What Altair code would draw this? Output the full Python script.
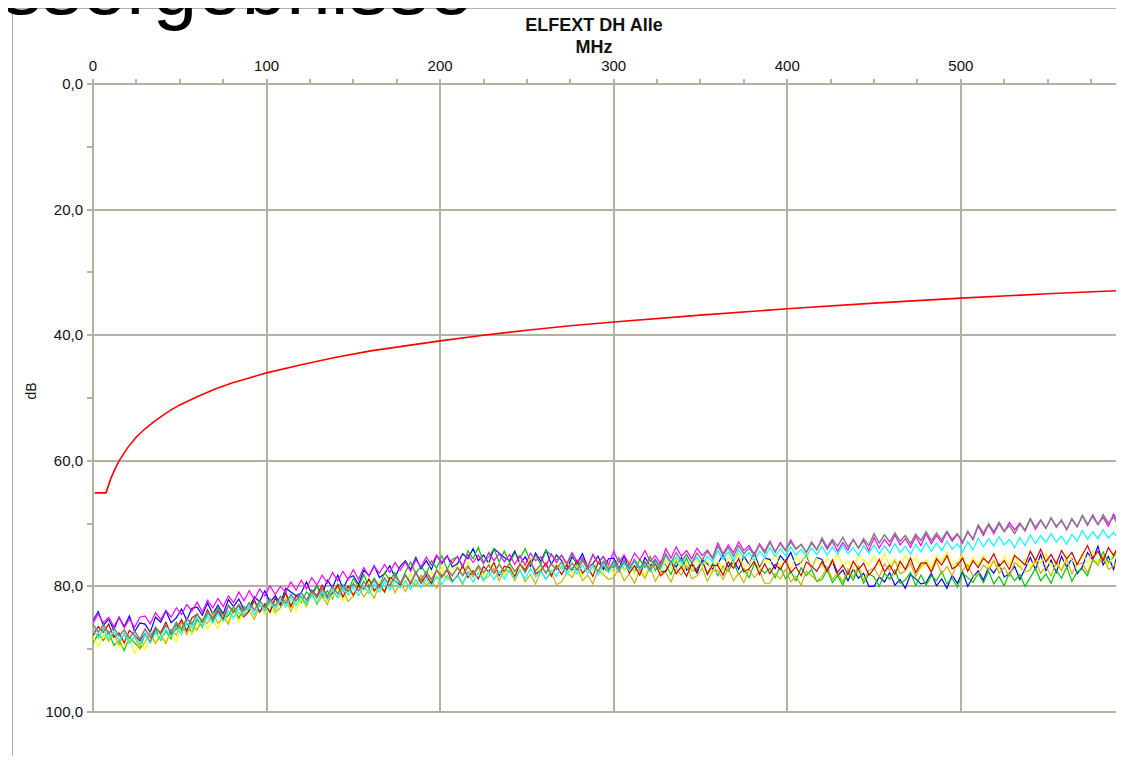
import altair as alt
import pandas as pd

SLIDE_TITLE = ["Messergebnisse"]
CHART_TITLE = ["ELFEXT DH Alle"]
X_TITLE = "MHz"
Y_TITLE = "dB"

# frequency grid of the measured traces (MHz)
freq = list(range(0, 601, 3))

# limit line (red)
limit_mhz = [1, 7.5, 10, 12.5, 15, 20, 25, 30, 35, 40, 45, 50, 60, 70, 80, 90, 100,
             120, 140, 160, 180, 200, 225, 250, 275, 300, 350, 400, 450, 500, 550, 600]
limit_db = [65.1, 65.1, 63.0, 61.4, 60.0, 57.9, 56.2, 54.9, 53.8, 52.8, 51.9, 51.1, 49.8,
            48.6, 47.6, 46.8, 46.0, 44.7, 43.5, 42.5, 41.7, 40.9, 40.0, 39.2, 38.5, 37.9,
            36.8, 35.8, 34.9, 34.1, 33.4, 32.8]

blue = [
    85.4, 84.0, 86.2, 85.2, 86.9, 84.9, 86.4, 84.7, 87.2, 85.8,
    86.0, 87.3, 84.9, 85.7, 83.9, 85.8, 85.0, 83.6, 85.4, 83.5,
    83.3, 84.6, 82.6, 84.4, 83.0, 84.4, 82.1, 83.2, 82.0, 83.7,
    83.4, 81.7, 82.4, 80.7, 82.5, 81.5, 82.7, 80.3, 80.9, 81.5,
    81.0, 79.3, 81.2, 79.9, 81.3, 79.0, 80.2, 78.2, 80.4, 78.7,
    78.3, 79.7, 77.4, 78.3, 76.7, 78.6, 78.0, 76.7, 78.6, 76.8,
    75.9, 77.3, 75.4, 77.2, 75.9, 77.3, 75.1, 76.2, 75.1, 76.9,
    76.4, 74.8, 75.6, 74.0, 75.9, 75.0, 76.3, 74.0, 74.7, 75.4,
    75.9, 74.4, 76.4, 75.3, 76.8, 74.7, 76.0, 74.2, 76.5, 75.0,
    75.9, 77.4, 75.3, 76.3, 74.8, 76.9, 76.4, 75.2, 77.3, 75.6,
    75.5, 77.0, 75.2, 77.2, 76.0, 77.5, 75.4, 76.7, 75.7, 77.6,
    77.6, 76.1, 76.9, 75.4, 77.4, 76.5, 77.9, 75.7, 76.4, 77.2,
    76.4, 74.9, 76.9, 75.8, 77.3, 75.2, 76.5, 74.7, 77.0, 75.5,
    75.7, 77.2, 75.1, 76.1, 74.6, 76.7, 76.2, 75.0, 77.1, 75.4,
    75.7, 77.5, 76.0, 78.3, 77.4, 79.1, 77.2, 78.7, 77.9, 80.0,
    80.0, 78.5, 79.3, 77.8, 79.8, 78.9, 80.3, 78.1, 78.8, 79.6,
    79.4, 77.9, 79.9, 78.8, 80.3, 78.2, 79.5, 77.7, 80.0, 78.5,
    77.5, 79.0, 76.9, 77.9, 76.4, 78.5, 78.0, 76.8, 78.9, 77.2,
    75.4, 77.3, 74.9, 77.5, 75.8, 77.8, 75.2, 76.9, 75.6, 78.0,
    76.9, 74.6, 75.8, 73.6, 76.6, 75.2, 77.3, 74.0, 75.1, 76.3,
    75.6]

green = [
    89.0, 87.6, 88.6, 87.2, 89.4, 88.6, 90.2, 88.1, 89.0, 89.9,
    87.6, 88.9, 86.8, 88.6, 87.1, 88.4, 86.0, 87.1, 85.8, 87.5,
    85.2, 86.5, 84.2, 85.0, 83.4, 85.3, 84.6, 83.2, 85.1, 83.2,
    83.9, 82.2, 84.1, 82.8, 84.1, 81.9, 83.0, 81.0, 83.2, 81.5,
    82.6, 80.9, 81.6, 79.9, 81.8, 80.7, 82.0, 79.6, 80.2, 80.8,
    78.7, 80.1, 78.1, 80.0, 78.7, 80.0, 77.8, 79.0, 77.8, 79.6,
    77.7, 76.1, 78.0, 76.7, 78.1, 75.9, 77.1, 75.1, 77.3, 75.7,
    75.3, 77.0, 74.3, 75.6, 73.8, 76.2, 75.3, 74.0, 76.1, 74.4,
    76.2, 74.7, 75.5, 74.0, 76.0, 75.1, 76.5, 74.3, 75.0, 75.8,
    75.1, 76.6, 74.8, 76.8, 75.6, 77.1, 75.0, 76.3, 75.3, 77.2,
    76.9, 75.4, 77.4, 76.3, 77.8, 75.7, 77.0, 75.2, 77.5, 76.0,
    76.6, 78.1, 76.0, 77.0, 75.5, 77.6, 77.1, 75.9, 78.0, 76.3,
    78.3, 76.8, 77.6, 76.1, 78.1, 77.2, 78.6, 76.4, 77.1, 77.9,
    77.1, 78.6, 76.8, 78.8, 77.6, 79.1, 77.0, 78.3, 77.3, 79.2,
    78.9, 77.4, 79.4, 78.3, 79.8, 77.7, 79.0, 77.2, 79.5, 78.0,
    78.5, 80.0, 77.9, 78.9, 77.4, 79.5, 79.0, 77.8, 79.9, 78.2,
    79.8, 78.3, 79.1, 77.6, 79.6, 78.7, 80.1, 77.9, 78.6, 79.4,
    77.9, 79.4, 77.6, 79.6, 78.4, 79.9, 77.8, 79.1, 78.1, 80.0,
    78.6, 77.1, 79.1, 78.0, 79.5, 77.4, 78.7, 76.9, 79.2, 77.7,
    77.2, 78.3, 75.8, 76.4, 74.5, 76.2, 75.3, 73.7, 75.4, 73.3,
    73.6]

yellow = [
    88.0, 89.6, 87.7, 88.8, 87.5, 89.7, 89.4, 88.3, 90.6, 89.0,
    90.0, 88.3, 88.8, 87.1, 88.8, 87.7, 88.8, 86.4, 86.8, 87.4,
    86.6, 84.9, 86.7, 85.4, 86.7, 84.5, 85.6, 83.6, 85.7, 84.0,
    83.3, 84.6, 82.7, 84.5, 83.1, 84.5, 82.2, 83.3, 82.2, 83.9,
    82.1, 83.4, 81.2, 82.0, 80.4, 82.3, 81.7, 80.3, 82.3, 80.4,
    81.6, 80.0, 80.6, 79.0, 80.9, 79.8, 81.1, 78.8, 79.3, 80.0,
    79.5, 77.9, 79.8, 78.5, 79.9, 77.7, 78.9, 76.9, 79.1, 77.5,
    76.7, 78.1, 76.1, 78.1, 76.9, 78.3, 76.2, 77.4, 76.4, 78.2,
    76.7, 78.2, 76.1, 77.1, 75.6, 77.7, 77.2, 76.0, 78.1, 76.4,
    77.4, 75.9, 77.9, 76.8, 78.3, 76.2, 77.5, 75.7, 78.0, 76.5,
    78.0, 76.5, 77.3, 75.8, 77.8, 76.9, 78.3, 76.1, 76.8, 77.6,
    75.7, 77.2, 75.4, 77.4, 76.2, 77.7, 75.6, 76.9, 75.9, 77.8,
    75.9, 77.4, 75.3, 76.3, 74.8, 76.9, 76.4, 75.2, 77.3, 75.6,
    76.4, 74.9, 76.9, 75.8, 77.3, 75.2, 76.5, 74.7, 77.0, 75.5,
    77.0, 75.5, 76.3, 74.8, 76.8, 75.9, 77.3, 75.1, 75.8, 76.6,
    75.1, 76.6, 74.8, 76.8, 75.6, 77.1, 75.0, 76.3, 75.3, 77.2,
    75.7, 77.2, 75.1, 76.1, 74.6, 76.7, 76.2, 75.0, 77.1, 75.4,
    76.5, 75.0, 77.0, 75.9, 77.4, 75.3, 76.6, 74.8, 77.1, 75.6,
    77.0, 75.5, 76.3, 74.8, 76.8, 75.9, 77.3, 75.1, 75.8, 76.6,
    74.7, 76.2, 74.4, 76.4, 75.2, 76.7, 74.6, 75.9, 74.9, 76.8,
    75.4]

olive = [
    86.6, 88.2, 86.5, 88.7, 87.6, 89.3, 87.4, 88.9, 88.0, 90.0,
    88.9, 87.3, 89.1, 87.8, 89.1, 86.8, 87.8, 85.7, 87.7, 85.8,
    87.0, 85.3, 85.9, 84.1, 85.9, 84.8, 86.0, 83.6, 84.2, 84.9,
    83.9, 85.2, 83.0, 83.8, 82.1, 84.1, 83.4, 82.0, 84.0, 82.1,
    81.7, 83.0, 81.0, 82.9, 81.5, 82.9, 80.6, 81.8, 80.6, 82.4,
    81.5, 79.9, 81.7, 80.5, 81.9, 79.7, 80.8, 78.9, 81.0, 79.4,
    80.8, 79.2, 79.9, 78.2, 79.9, 79.1, 80.3, 78.0, 78.6, 79.3,
    78.3, 79.7, 77.6, 78.5, 77.0, 78.9, 78.4, 77.1, 79.1, 77.4,
    77.6, 79.1, 77.3, 79.3, 78.1, 79.6, 77.5, 78.8, 77.8, 79.7,
    79.3, 77.8, 78.6, 77.1, 79.1, 78.2, 79.6, 77.4, 78.1, 78.9,
    78.6, 77.1, 79.1, 78.0, 79.5, 77.4, 78.7, 76.9, 79.2, 77.7,
    77.8, 79.3, 77.2, 78.2, 76.7, 78.8, 78.3, 77.1, 79.2, 77.5,
    77.4, 78.9, 77.1, 79.1, 77.9, 79.4, 77.3, 78.6, 77.6, 79.5,
    79.5, 78.0, 78.8, 77.3, 79.3, 78.4, 79.8, 77.6, 78.3, 79.1,
    78.4, 76.9, 78.9, 77.8, 79.3, 77.2, 78.5, 76.7, 79.0, 77.5,
    77.0, 78.5, 76.4, 77.4, 75.9, 78.0, 77.5, 76.3, 78.4, 76.7,
    76.3, 77.8, 76.0, 78.0, 76.8, 78.3, 76.2, 77.5, 76.5, 78.4,
    78.1, 76.6, 77.4, 75.9, 77.9, 77.0, 78.4, 76.2, 76.9, 77.7,
    77.4, 75.9, 77.9, 76.8, 78.3, 76.2, 77.5, 75.7, 78.0, 76.5,
    76.3, 77.8, 75.7, 76.7, 75.2, 77.3, 76.8, 75.6, 77.7, 76.0,
    76.4]

darkred = [
    87.8, 86.4, 87.3, 86.0, 88.1, 87.4, 89.0, 87.0, 87.8, 88.7,
    87.5, 88.9, 86.6, 87.4, 85.7, 87.6, 86.8, 85.3, 87.1, 85.0,
    84.4, 85.7, 83.7, 85.4, 84.0, 85.3, 83.0, 84.1, 83.0, 84.8,
    83.9, 82.2, 84.1, 82.8, 84.1, 81.9, 83.0, 81.0, 83.2, 81.5,
    81.6, 82.9, 80.6, 81.5, 79.8, 81.8, 81.1, 79.8, 81.7, 79.9,
    81.4, 79.8, 80.4, 78.8, 80.7, 79.7, 80.9, 78.6, 79.1, 79.8,
    78.2, 79.6, 77.7, 79.5, 78.2, 79.6, 77.4, 78.5, 77.4, 79.2,
    78.3, 76.7, 78.6, 77.5, 78.8, 76.8, 77.7, 76.2, 78.3, 76.8,
    77.0, 78.5, 76.4, 77.4, 75.9, 78.0, 77.5, 76.3, 78.4, 76.7,
    78.1, 76.6, 77.4, 75.9, 77.9, 77.0, 78.4, 76.2, 76.9, 77.7,
    76.2, 77.7, 75.9, 77.9, 76.7, 78.2, 76.1, 77.4, 76.4, 78.3,
    77.5, 76.0, 78.0, 76.9, 78.4, 76.3, 77.6, 75.8, 78.1, 76.6,
    76.7, 78.2, 76.1, 77.1, 75.6, 77.7, 77.2, 76.0, 78.1, 76.4,
    78.0, 76.5, 77.3, 75.8, 77.8, 76.9, 78.3, 76.1, 76.8, 77.6,
    76.1, 77.6, 75.8, 77.8, 76.6, 78.1, 76.0, 77.3, 76.3, 78.2,
    77.2, 75.7, 77.7, 76.6, 78.1, 76.0, 77.3, 75.5, 77.8, 76.3,
    76.2, 77.7, 75.6, 76.6, 75.1, 77.2, 76.7, 75.5, 77.6, 75.9,
    77.0, 75.5, 76.3, 74.8, 76.8, 75.9, 77.3, 75.1, 75.8, 76.6,
    74.4, 75.9, 74.1, 76.1, 74.9, 76.4, 74.3, 75.6, 74.6, 76.5,
    75.0, 73.5, 75.5, 74.4, 75.9, 73.8, 75.1, 73.3, 75.6, 74.1,
    74.5]

cyan = [
    86.8, 88.1, 86.9, 88.4, 87.2, 88.6, 87.6, 89.1, 87.9, 89.3,
    87.6, 89.0, 87.3, 88.5, 86.9, 88.0, 86.5, 87.6, 85.7, 86.6,
    85.0, 86.3, 84.7, 85.8, 84.3, 85.5, 83.9, 85.0, 83.5, 84.6,
    83.1, 84.5, 82.8, 84.0, 82.5, 83.6, 82.1, 83.3, 81.7, 83.0,
    81.5, 82.9, 81.2, 82.6, 80.9, 82.1, 80.6, 81.8, 80.2, 81.4,
    80.1, 81.5, 79.9, 81.1, 79.6, 80.9, 79.3, 80.6, 79.0, 80.2,
    79.1, 80.5, 78.9, 80.2, 78.7, 79.9, 78.4, 79.7, 78.2, 79.4,
    78.1, 79.5, 77.9, 79.3, 77.8, 79.1, 77.7, 78.9, 77.6, 78.8,
    77.3, 78.7, 77.5, 78.8, 77.2, 78.5, 77.6, 78.9, 77.4, 78.4,
    76.7, 78.1, 76.9, 78.0, 76.6, 77.9, 76.8, 78.2, 76.5, 77.8,
    76.2, 77.6, 76.4, 77.5, 76.0, 77.3, 76.5, 77.7, 76.1, 77.2,
    75.1, 76.5, 75.3, 76.4, 75.0, 76.2, 75.4, 76.6, 75.2, 76.1,
    74.3, 75.7, 74.5, 75.8, 74.2, 75.5, 74.6, 75.9, 74.4, 75.4,
    73.8, 75.2, 74.0, 75.1, 73.7, 75.0, 74.1, 75.3, 73.9, 74.9,
    73.6, 75.0, 73.7, 74.9, 73.4, 74.8, 73.8, 75.1, 73.5, 74.7,
    73.4, 74.8, 73.5, 74.7, 73.2, 74.6, 73.6, 74.9, 73.3, 74.5,
    73.0, 74.4, 73.1, 74.3, 72.8, 74.1, 73.2, 74.5, 72.9, 74.2,
    72.3, 73.7, 72.4, 73.6, 72.1, 73.4, 72.5, 73.8, 72.2, 73.5,
    71.8, 73.2, 71.9, 73.0, 71.6, 72.9, 72.0, 73.3, 71.7, 72.8,
    71.1, 72.5, 71.3, 72.4, 71.0, 72.3, 71.4, 72.6, 71.2, 72.1,
    71.6]

magenta = [
    85.9, 84.4, 85.8, 84.9, 86.4, 85.0, 86.6, 85.2, 86.5, 84.9,
    84.7, 86.0, 84.2, 85.3, 83.8, 84.9, 83.4, 84.5, 82.9, 83.9,
    82.5, 84.1, 82.2, 83.4, 81.9, 83.2, 81.5, 82.6, 80.9, 82.3,
    80.7, 82.1, 80.4, 81.5, 79.9, 81.3, 80.0, 80.9, 79.3, 80.6,
    79.0, 80.4, 78.6, 79.8, 78.2, 79.5, 77.8, 79.1, 77.6, 78.9,
    77.3, 78.9, 77.0, 78.4, 76.8, 77.9, 76.5, 77.8, 76.2, 77.4,
    76.1, 77.6, 75.7, 76.9, 75.3, 76.6, 75.0, 76.4, 75.2, 76.3,
    75.2, 76.8, 74.9, 76.2, 75.0, 76.4, 74.6, 75.9, 74.8, 76.1,
    74.9, 76.5, 75.1, 76.6, 74.7, 75.9, 75.3, 76.8, 74.8, 76.2,
    75.0, 76.4, 74.6, 76.1, 75.4, 76.9, 74.9, 76.3, 75.2, 76.6,
    74.4, 76.2, 75.0, 76.5, 74.7, 75.8, 74.3, 76.0, 75.1, 76.4,
    74.0, 75.5, 73.7, 75.2, 74.3, 75.6, 73.9, 75.1, 74.2, 75.4,
    73.1, 74.8, 73.4, 74.6, 72.9, 74.3, 73.5, 74.9, 73.2, 74.4,
    72.8, 74.5, 73.0, 74.2, 72.6, 74.0, 73.3, 74.6, 72.9, 74.1,
    72.6, 74.1, 72.8, 74.4, 73.0, 74.2, 72.5, 73.9, 72.7, 74.3,
    72.2, 73.9, 72.5, 73.6, 71.8, 73.4, 72.4, 73.8, 72.0, 73.5,
    71.6, 73.2, 71.9, 73.0, 71.4, 72.8, 71.7, 73.1, 71.2, 72.6,
    70.4, 71.9, 70.2, 71.6, 70.0, 71.3, 69.8, 71.0, 69.9, 71.2,
    69.3, 70.9, 69.5, 70.8, 69.1, 70.6, 69.4, 71.0, 69.2, 70.5,
    68.8, 70.3, 68.6, 70.1, 69.0, 70.4, 68.5, 69.9, 68.7, 70.0,
    69.3]

gray = [
    86.0, 87.3, 86.1, 87.5, 86.6, 87.9, 86.9, 88.2, 87.1, 88.4,
    86.8, 88.1, 86.5, 87.6, 86.2, 87.3, 85.7, 86.8, 85.1, 86.0,
    84.4, 85.6, 84.0, 85.2, 83.6, 84.6, 83.1, 84.2, 82.9, 83.9,
    82.6, 83.8, 82.3, 83.4, 82.0, 83.1, 81.6, 82.7, 81.3, 82.3,
    81.0, 82.2, 80.7, 81.8, 80.4, 81.5, 80.0, 81.2, 79.8, 80.8,
    79.5, 80.7, 79.2, 80.3, 79.0, 80.2, 78.7, 79.9, 78.4, 79.5,
    78.2, 79.4, 77.9, 79.0, 77.7, 78.9, 77.4, 78.6, 77.2, 78.3,
    77.0, 78.3, 76.8, 78.1, 76.7, 77.8, 76.6, 77.9, 76.5, 77.6,
    76.3, 77.6, 76.5, 77.8, 76.2, 77.5, 76.6, 77.9, 76.4, 77.3,
    76.1, 77.5, 76.3, 77.4, 75.9, 77.2, 76.4, 77.6, 76.0, 77.3,
    75.9, 77.3, 76.0, 77.1, 75.7, 77.0, 76.2, 77.4, 75.8, 76.9,
    74.8, 76.2, 74.6, 75.9, 74.9, 76.3, 74.7, 75.8, 74.4, 75.6,
    73.6, 75.0, 73.8, 75.2, 73.5, 74.8, 73.9, 75.1, 73.4, 74.7,
    73.0, 74.5, 73.2, 74.3, 72.9, 74.1, 73.3, 74.6, 73.1, 74.2,
    72.3, 73.8, 72.5, 73.6, 72.2, 73.7, 72.6, 73.9, 72.4, 73.5,
    71.6, 73.1, 71.8, 72.9, 71.5, 72.8, 71.9, 73.2, 71.7, 72.7,
    71.3, 72.7, 71.5, 72.6, 71.2, 72.5, 71.6, 72.9, 71.4, 72.4,
    70.2, 71.5, 70.0, 71.3, 69.8, 71.2, 70.3, 71.6, 70.1, 71.0,
    69.2, 70.6, 69.4, 70.7, 69.1, 70.4, 69.6, 70.9, 69.3, 70.5,
    68.7, 70.1, 68.9, 70.2, 68.6, 69.9, 69.0, 70.3, 68.8, 69.8,
    69.1]

# drawing order (last on top), colours and line widths
traces = [
    ("blue", "#0000ff", blue, 1.2),
    ("green", "#00c800", green, 1.2),
    ("yellow", "#ffff00", yellow, 1.2),
    ("olive", "#c8b400", olive, 1.2),
    ("darkred", "#d00000", darkred, 1.2),
    ("cyan", "#00ffff", cyan, 1.2),
    ("magenta", "#ff00ff", magenta, 1.2),
    ("gray", "#808080", gray, 1.5),
]

X_MAX = 589.4  # right edge of the visible plot area (the 0..600 axis is cut here)
x_ticks = list(range(0, 576, 25))
y_ticks = list(range(0, 101, 10))

FONT = "Liberation Sans, Arial, Helvetica, sans-serif"
GRID = "#b4b1a3"
TEXT = "#111111"

x_scale = alt.Scale(domain=[0, X_MAX], nice=False, zero=False)
y_scale = alt.Scale(domain=[0, 100], reverse=True, nice=False, zero=False)

x_axis = alt.Axis(
    orient="top", title=X_TITLE, values=x_ticks,
    labelExpr="datum.value % 100 === 0 ? datum.value : ''",
    grid=True, gridColor=GRID, gridWidth=2,
    gridOpacity={"condition": {"test": "datum.value % 100 === 0", "value": 1}, "value": 0},
    domainColor=GRID, domainWidth=2, tickColor=GRID, tickWidth=2, tickSize=5,
    labelPadding=8, labelBaseline="alphabetic", labelFont=FONT, labelFontSize=15,
    labelColor=TEXT, labelFlush=False, labelOverlap=False, labelBound=False,
    titleFont=FONT, titleFontSize=18, titleFontWeight="bold", titleColor=TEXT,
    titleX=501, titleY=-31, titleAlign="center", titleBaseline="alphabetic",
    translate=0,
)

y_axis = alt.Axis(
    orient="left", title=Y_TITLE, values=y_ticks,
    labelExpr="datum.value % 20 === 0 ? replace(format(datum.value, '.1f'), '.', ',') : ''",
    grid=True, gridColor=GRID, gridWidth=2,
    gridOpacity={"condition": {"test": "datum.value % 20 === 0", "value": 1}, "value": 0},
    domainColor=GRID, domainWidth=2, tickColor=GRID, tickWidth=2, tickSize=6,
    labelPadding=4, labelBaseline="middle", labelFont=FONT, labelFontSize=15,
    labelColor=TEXT, labelFlush=False, labelOverlap=False, labelBound=False,
    titleFont=FONT, titleFontSize=14, titleFontWeight="normal", titleColor=TEXT,
    titleX=-57, titleY=307, titleAlign="center", titleBaseline="alphabetic",
    titleAngle=270, translate=0,
)


def line_layer(xs, ys, color, width):
    assert len(xs) == len(ys), (color, len(xs), len(ys))
    df = pd.DataFrame({"f": xs, "db": ys})
    return alt.Chart(df).mark_line(color=color, strokeWidth=width, clip=True).encode(
        x=alt.X("f:Q", scale=x_scale, axis=x_axis),
        y=alt.Y("db:Q", scale=y_scale, axis=y_axis),
    )


one_row = pd.DataFrame({"k": [0]})

frame_left = alt.Chart(one_row).mark_rule(color=GRID, strokeWidth=1).encode(
    x=alt.value(-80.5), y=alt.value(-75.5), y2=alt.value(672)
)
frame_top = alt.Chart(one_row).mark_rule(color=GRID, strokeWidth=1).encode(
    x=alt.value(-80.5), x2=alt.value(1023), y=alt.value(-75.5)
)

slide_text = alt.Chart(pd.DataFrame({"t": SLIDE_TITLE})).mark_text(
    font=FONT, fontSize=80, align="right", baseline="alphabetic", color="#000000"
).encode(text="t:N", x=alt.value(380), y=alt.value(-70))

title_text = alt.Chart(pd.DataFrame({"t": CHART_TITLE})).mark_text(
    font=FONT, fontSize=18, fontWeight="bold", align="center",
    baseline="alphabetic", color=TEXT
).encode(text="t:N", x=alt.value(501), y=alt.value(-53))

layers = [frame_left, frame_top, slide_text, title_text]
for name, color, vals, width in traces:
    layers.append(line_layer(freq, vals, color, width))
layers.append(line_layer(limit_mhz, limit_db, "#ff0000", 1.6))

chart = alt.layer(*layers).properties(
    width=1023, height=628,
    padding={"left": 85, "top": 76, "right": 0, "bottom": 44},
    autosize=alt.AutoSizeParams(type="none"),
    background="white",
).configure_view(stroke=None)

chart.save("out.html", embed_options={"renderer": "svg", "actions": False})
